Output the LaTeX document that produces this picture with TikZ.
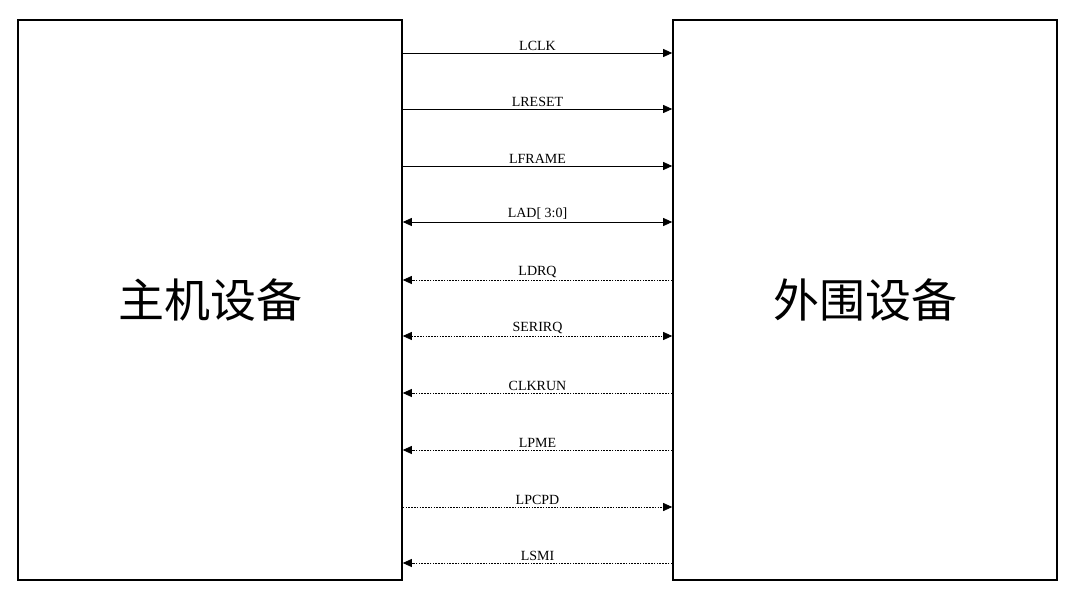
\documentclass[tikz,border=0pt]{standalone}
\usepackage{fontspec}
\setmainfont{Liberation Serif}
\newfontfamily\cjk{Noto Sans CJK SC}
\usetikzlibrary{arrows.meta}
\begin{document}
\begin{tikzpicture}[x=1pt,y=-1pt,
  dev/.style={draw,line width=1.6pt,minimum width=384pt,minimum height=560pt,inner sep=0pt,font=\cjk\fontsize{46}{46}\selectfont},
  sig/.style={line width=0.8pt,-{Triangle[length=9pt,width=8pt]}},
  bi/.style={line width=0.8pt,{Triangle[length=9pt,width=8pt]}-{Triangle[length=9pt,width=8pt]}},
  dot/.style={dash pattern=on 1.6pt off 1.2pt},
  lbl/.style={font=\fontsize{14}{14}\selectfont,above,inner sep=2pt}]
\useasboundingbox (0,0) rectangle (1080,595);
\node[dev] (H) at (210,300) {主机设备};
\node[dev] (P) at (865,300) {外围设备};
\foreach \n/\y in {a/53,b/109,c/166,d/222,e/280,f/336,g/393,h/450,i/507,j/563}{
  \coordinate (l\n) at (H.east |- 0,\y);
  \coordinate (r\n) at (P.west |- 0,\y);
}
\draw[sig] (la) -- node[lbl]{LCLK} (ra);
\draw[sig] (lb) -- node[lbl]{LRESET} (rb);
\draw[sig] (lc) -- node[lbl]{LFRAME} (rc);
\draw[bi] (ld) -- node[lbl]{LAD[ 3:0]} (rd);
\draw[sig,dot] (re) -- node[lbl]{LDRQ} (le);
\draw[bi,dot] (lf) -- node[lbl]{SERIRQ} (rf);
\draw[sig,dot] (rg) -- node[lbl]{CLKRUN} (lg);
\draw[sig,dot] (rh) -- node[lbl]{LPME} (lh);
\draw[sig,dot] (li) -- node[lbl]{LPCPD} (ri);
\draw[sig,dot] (rj) -- node[lbl]{LSMI} (lj);
\end{tikzpicture}
\end{document}
